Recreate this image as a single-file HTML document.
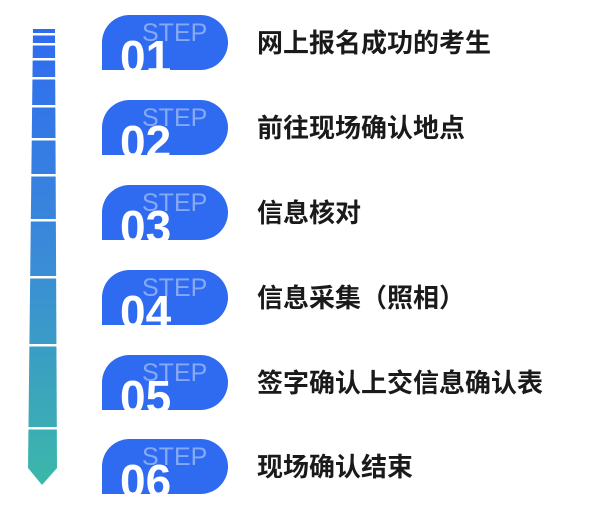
<!DOCTYPE html>
<html><head><meta charset="utf-8"><style>
body{margin:0;width:613px;height:519px;background:#fff;position:relative;overflow:hidden;font-family:"Liberation Sans","Noto Sans CJK SC",sans-serif}
.pill{position:absolute;left:102px;width:126px;height:55px;border-radius:28px 28px 28px 0;background:#2f6bf0;overflow:hidden}
.step{position:absolute;left:40px;top:4px;font-size:25px;color:#86a8f5}
.num{position:absolute;left:18px;top:19px;font-size:46px;font-weight:bold;color:#fff;line-height:46px}
.lbl{position:absolute;left:257px;font-size:26px;line-height:26px;font-weight:bold;color:#1a1a1a;white-space:nowrap}
</style></head><body>
<svg width="613" height="519" style="position:absolute;left:0;top:0">
<defs><linearGradient id="g" x1="0" y1="0" x2="0" y2="1"><stop offset="0" stop-color="#2f6bf0"/><stop offset="0.5" stop-color="#3a8bd8"/><stop offset="1" stop-color="#3bb8a9"/></linearGradient></defs>
<polygon points="33,29 55,29 57,468 42,485 28,468" fill="url(#g)"/>
<g fill="#fff">
<rect x="25" y="33" width="35" height="2.5"/><rect x="25" y="43" width="35" height="2.5"/><rect x="25" y="58" width="35" height="2.5"/><rect x="25" y="77" width="35" height="2.5"/><rect x="25" y="105" width="35" height="2.5"/><rect x="25" y="138" width="35" height="2.5"/><rect x="25" y="174" width="35" height="2.5"/><rect x="25" y="219" width="35" height="2.5"/><rect x="25" y="276" width="35" height="2.5"/><rect x="25" y="344" width="35" height="2.5"/><rect x="25" y="427" width="35" height="2.5"/>
</g></svg>
<div class="pill" style="top:15px"><span class="step">STEP</span><span class="num">01</span></div>
<div class="pill" style="top:100px"><span class="step">STEP</span><span class="num">02</span></div>
<div class="pill" style="top:185px"><span class="step">STEP</span><span class="num">03</span></div>
<div class="pill" style="top:270px"><span class="step">STEP</span><span class="num">04</span></div>
<div class="pill" style="top:355px"><span class="step">STEP</span><span class="num">05</span></div>
<div class="pill" style="top:439px"><span class="step">STEP</span><span class="num">06</span></div>
<div class="lbl" style="top:30px">网上报名成功的考生</div>
<div class="lbl" style="top:115px">前往现场确认地点</div>
<div class="lbl" style="top:200px">信息核对</div>
<div class="lbl" style="top:285px">信息采集（照相）</div>
<div class="lbl" style="top:370px">签字确认上交信息确认表</div>
<div class="lbl" style="top:454px">现场确认结束</div>
</body></html>
